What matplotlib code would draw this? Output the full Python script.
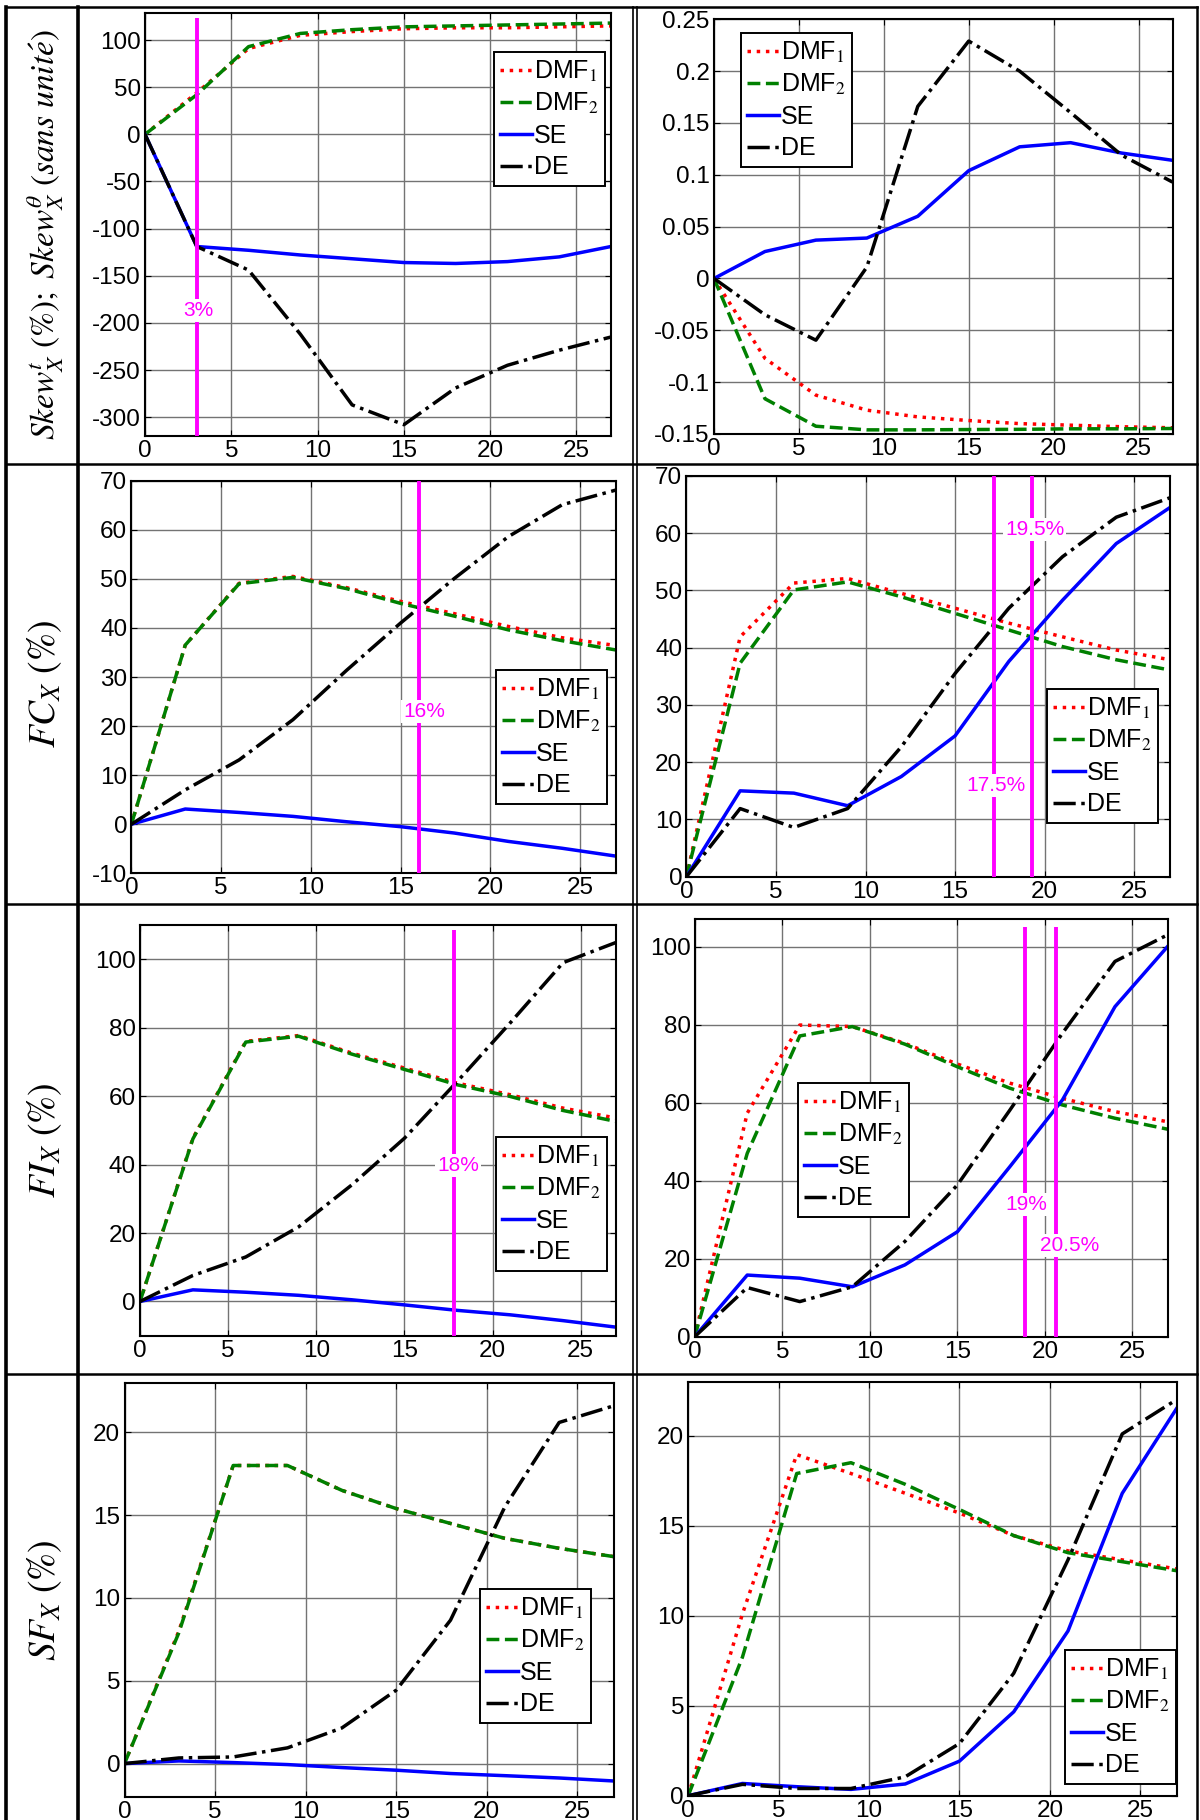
import matplotlib
matplotlib.use("Agg")
import matplotlib.pyplot as plt
from matplotlib.lines import Line2D
from matplotlib.ticker import FuncFormatter

plt.rcParams["font.family"] = ["Liberation Sans", "DejaVu Sans"]
plt.rcParams["mathtext.fontset"] = "stix"
plt.rcParams["axes.unicode_minus"] = False

W, H = 1200, 1820

# common abscissa
x_vals = [0, 3, 6, 9, 12, 15, 18, 21, 24, 27]
x_ticks = [0, 5, 10, 15, 20, 25]
series_names = ["DMF$_1$", "DMF$_2$", "SE", "DE"]

# row 1 : skewness
skew_t_dmf1 = [0, 44, 91, 105, 109, 112, 113, 113, 114, 115]
skew_t_dmf2 = [0, 42, 93, 107, 111, 114, 115, 116, 117, 118]
skew_t_se = [0, -119, -123, -128, -132, -136, -137, -135, -130, -119]
skew_t_de = [0, -119, -144, -212, -287, -308, -269, -245, -229, -215]

skew_th_dmf1 = [0, -0.077, -0.1125, -0.127, -0.1335, -0.137, -0.140, -0.1415, -0.143, -0.144]
skew_th_dmf2 = [0, -0.116, -0.1425, -0.146, -0.146, -0.1457, -0.1455, -0.145, -0.145, -0.1447]
skew_th_se = [0, 0.026, 0.037, 0.039, 0.060, 0.104, 0.127, 0.131, 0.121, 0.114]
skew_th_de = [0, -0.035, -0.0595, 0.011, 0.166, 0.229, 0.200, 0.160, 0.119, 0.093]

# row 2 : FC
fc_l_dmf1 = [0, 36.5, 49.1, 50.5, 48.2, 45.4, 42.9, 40.3, 38.0, 36.4]
fc_l_dmf2 = [0, 36.5, 49.0, 50.3, 48.0, 45.0, 42.4, 39.6, 37.4, 35.5]
fc_l_se = [0, 3.1, 2.4, 1.6, 0.5, -0.5, -1.8, -3.5, -4.9, -6.5]
fc_l_de = [0, 7.0, 13.1, 21.3, 31.4, 41.0, 50.1, 58.6, 65.1, 68.1]

fc_r_dmf1 = [0, 41.9, 51.3, 52.1, 49.5, 46.9, 44.3, 41.9, 39.6, 37.9]
fc_r_dmf2 = [0, 37.3, 50.1, 51.5, 48.9, 46.0, 43.1, 40.2, 37.9, 36.1]
fc_r_se = [0, 15.0, 14.6, 12.4, 17.5, 24.6, 37.6, 48.3, 58.2, 64.5]
fc_r_de = [0, 11.9, 8.6, 11.9, 22.7, 35.5, 46.9, 55.9, 62.8, 66.2]

# row 3 : FI
fi_l_dmf1 = [0, 47.7, 76.0, 77.7, 72.6, 68.2, 63.8, 60.4, 56.5, 53.6]
fi_l_dmf2 = [0, 47.5, 75.8, 77.5, 72.3, 67.8, 63.3, 59.9, 55.8, 52.6]
fi_l_se = [0, 3.4, 2.7, 1.8, 0.5, -1.0, -2.6, -3.9, -5.6, -7.5]
fi_l_de = [0, 7.6, 13.0, 21.8, 34.0, 47.7, 64.3, 81.4, 99.0, 104.9]

fi_r_dmf1 = [0, 57.3, 79.9, 79.5, 75.2, 69.9, 65.0, 61.1, 57.7, 55.1]
fi_r_dmf2 = [0, 47.0, 77.1, 79.5, 75.0, 69.2, 63.7, 59.4, 56.0, 53.2]
fi_r_se = [0, 15.8, 15.0, 12.8, 18.4, 26.9, 43.6, 60.7, 84.6, 100.0]
fi_r_de = [0, 12.6, 9.0, 12.8, 24.4, 38.9, 58.1, 77.8, 96.2, 103.0]

# row 4 : SF
sf_l_dmf1 = [0, 8.0, 18.0, 18.0, 16.5, 15.4, 14.5, 13.6, 13.0, 12.5]
sf_l_dmf2 = [0, 7.9, 18.0, 18.0, 16.5, 15.4, 14.5, 13.6, 13.0, 12.5]
sf_l_se = [0, 0.16, 0.06, -0.06, -0.24, -0.4, -0.6, -0.73, -0.87, -1.05]
sf_l_de = [0, 0.34, 0.4, 0.95, 2.15, 4.43, 8.66, 15.5, 20.6, 21.6]

sf_r_dmf1 = [0, 10.1, 18.95, 17.9, 16.8, 15.7, 14.45, 13.6, 13.1, 12.6]
sf_r_dmf2 = [0, 7.7, 17.9, 18.5, 17.3, 15.9, 14.45, 13.5, 13.0, 12.5]
sf_r_se = [0, 0.68, 0.5, 0.35, 0.65, 1.92, 4.66, 9.15, 16.8, 21.5]
sf_r_de = [0, 0.63, 0.4, 0.4, 1.05, 2.9, 6.8, 13.1, 20.1, 22.0]

# threshold markers: (line x, label, label x, label y)
skew_t_marks = [(3.0, "3%", 3.07, -187)]
fc_l_marks = [(16.0, "16%", 16.3, 23)]
fc_r_marks = [(17.2, "17.5%", 17.3, 16), (19.3, "19.5%", 19.45, 60.6)]
fi_l_marks = [(17.8, "18%", 18.05, 39.7)]
fi_r_marks = [(18.85, "19%", 18.95, 33.8), (20.65, "20.5%", 21.4, 23.3)]

row_labels = [
    r"$Skew_X^t\ (\%);\ Skew_X^{\theta}\ (sans\ unit\acute{e})$",
    r"$FC_X\ (\%)$",
    r"$FI_X\ (\%)$",
    r"$SF_X\ (\%)$",
]
row_label_sizes = [24, 27, 27, 27]

STYLES = [
    dict(color="red", linestyle=":", lw=2.5),
    dict(color="#008000", linestyle="--", lw=2.5),
    dict(color="blue", linestyle="-", lw=2.5),
    dict(color="black", linestyle="-.", lw=2.5),
]
MAGENTA = "#FF00FF"

fig = plt.figure(figsize=(W / 100, H / 100), dpi=100)


def fx(px):
    return px / W


def fy(py):
    return 1 - py / H


def add_panel(rect, series, ylim, yticks, leg_pos, marks=(), mark_top=None, fmt=None):
    left, right, top, bottom = rect
    ax = fig.add_axes([fx(left), fy(bottom), fx(right - left), (bottom - top) / H])
    for ys, name, st in zip(series, series_names, STYLES):
        ax.plot(x_vals, ys, label=name, **st)
    top_val = ylim[1] if mark_top is None else mark_top
    for mx, txt, tx, ty in marks:
        ax.vlines(mx, ylim[0], top_val, color=MAGENTA, lw=2.8, zorder=5)
        ax.text(tx, ty, txt, color=MAGENTA, fontsize=15, ha="center", va="center", zorder=6,
                bbox=dict(facecolor="white", edgecolor="none", pad=1.5))
    ax.set_xlim(0, 27)
    ax.set_ylim(*ylim)
    ax.set_xticks(x_ticks)
    ax.set_yticks(yticks)
    if fmt:
        ax.yaxis.set_major_formatter(FuncFormatter(fmt))
    ax.grid(True, color="0.45", lw=1.0)
    ax.tick_params(direction="in", top=True, right=True, length=4, labelsize=17.5, pad=3)
    for sp in ax.spines.values():
        sp.set_linewidth(1.5)
    leg = ax.legend(loc="upper left", bbox_to_anchor=(fx(leg_pos[0]), fy(leg_pos[1])),
                    bbox_transform=fig.transFigure, fontsize=18, handlelength=1.25,
                    handletextpad=0.1, borderpad=0.25, labelspacing=0.3,
                    borderaxespad=0, fancybox=False, framealpha=1)
    leg.get_frame().set_edgecolor("black")
    leg.get_frame().set_linewidth(1.4)
    return ax


add_panel((145, 611, 12.7, 436),
          [skew_t_dmf1, skew_t_dmf2, skew_t_se, skew_t_de],
          (-320, 129), list(range(-300, 101, 50)), (494, 52),
          skew_t_marks, mark_top=123)
add_panel((714, 1172.5, 19.3, 434),
          [skew_th_dmf1, skew_th_dmf2, skew_th_se, skew_th_de],
          (-0.15, 0.25), [-0.15, -0.1, -0.05, 0, 0.05, 0.1, 0.15, 0.2, 0.25], (741, 33),
          fmt=lambda v, p: "%g" % round(v, 2))
add_panel((131.4, 616, 480.7, 873.3),
          [fc_l_dmf1, fc_l_dmf2, fc_l_se, fc_l_de],
          (-10, 70), list(range(-10, 71, 10)), (496, 670), fc_l_marks)
add_panel((686.4, 1170, 476, 876.7),
          [fc_r_dmf1, fc_r_dmf2, fc_r_se, fc_r_de],
          (0, 70), list(range(0, 71, 10)), (1047, 689), fc_r_marks)
add_panel((140, 616, 925, 1335.7),
          [fi_l_dmf1, fi_l_dmf2, fi_l_se, fi_l_de],
          (-10, 110), list(range(0, 101, 20)), (496, 1137), fi_l_marks, mark_top=108.6)
add_panel((694.7, 1167.5, 919.3, 1336.7),
          [fi_r_dmf1, fi_r_dmf2, fi_r_se, fi_r_de],
          (0, 107), list(range(0, 101, 20)), (798, 1083), fi_r_marks, mark_top=105)
add_panel((124.5, 613.5, 1382.7, 1796.7),
          [sf_l_dmf1, sf_l_dmf2, sf_l_se, sf_l_de],
          (-2, 23), list(range(0, 21, 5)), (480, 1589))
add_panel((688.2, 1176.5, 1381.7, 1795.7),
          [sf_r_dmf1, sf_r_dmf2, sf_r_se, sf_r_de],
          (0, 23), list(range(0, 21, 5)), (1065, 1650))

# row titles in the left column
row_centres = [235, 684, 1140, 1600]
for lab, yc, fs in zip(row_labels, row_centres, row_label_sizes):
    fig.text(fx(45), fy(yc), lab, rotation=90, ha="center", va="center", fontsize=fs)

# table rules
def rule(x0, y0, x1, y1, lw):
    fig.add_artist(Line2D([fx(x0), fx(x1)], [fy(y0), fy(y1)], color="black", lw=lw,
                          transform=fig.transFigure))

for yy in [7, 464, 904, 1374]:
    rule(6, yy, 1197, yy, 1.8)
rule(6, 7, 6, H, 2.6)
rule(78, 7, 78, H, 2.6)
rule(633, 7, 633, H, 1.2)
rule(637, 7, 637, H, 1.2)
rule(1197, 7, 1197, H, 1.8)

fig.savefig("out.png", dpi=100)
